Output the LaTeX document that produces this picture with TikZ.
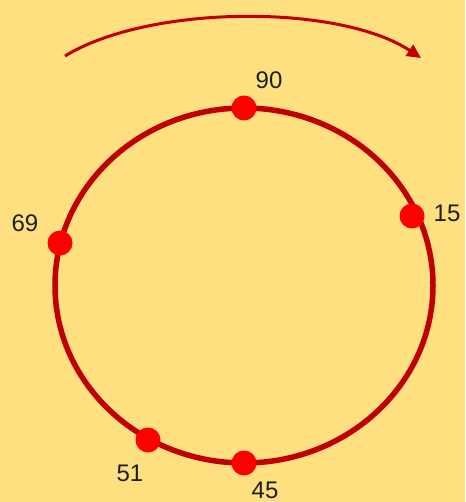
\documentclass[tikz,border=0pt]{standalone}
\usepackage{fontspec}
\setmainfont{Liberation Sans}
\usetikzlibrary{arrows.meta}
\definecolor{bg}{RGB}{255,224,128}
\definecolor{ring}{RGB}{192,0,0}
\definecolor{dotred}{RGB}{255,0,0}
\definecolor{txt}{RGB}{30,30,30}
\begin{document}
\begin{tikzpicture}[x=1pt,y=-1pt,
  dot/.style={circle,fill=dotred,inner sep=0pt,minimum size=25pt},
  lbl/.style={text=txt,inner sep=0pt,font=\fontsize{24}{28}\selectfont}]
\fill[bg] (0,0) rectangle (465,502);
\useasboundingbox (0,0) rectangle (465,502);
\draw[ring,line width=5.5pt] (244,285.5) ellipse [x radius=189, y radius=177.5];
\coordinate (as) at (65,56);
\coordinate (ae) at (421,58);
\draw[ring,line width=3pt,-{Triangle[length=14pt,width=13pt]}] (as) .. controls (150,4) and (340,4) .. (ae);
\node[dot] (d90) at (244,108) {};
\node[dot] (d15) at (412,216) {};
\node[dot] (d69) at (60,243) {};
\node[dot] (d51) at (148,440) {};
\node[dot] (d45) at (244,463) {};
\node[lbl] (l90) at (269,80) {90};
\node[lbl] (l15) at (447,213) {15};
\node[lbl] (l69) at (25,223) {69};
\node[lbl] (l51) at (130,473) {51};
\node[lbl] (l45) at (265,490) {45};
\end{tikzpicture}
\end{document}
